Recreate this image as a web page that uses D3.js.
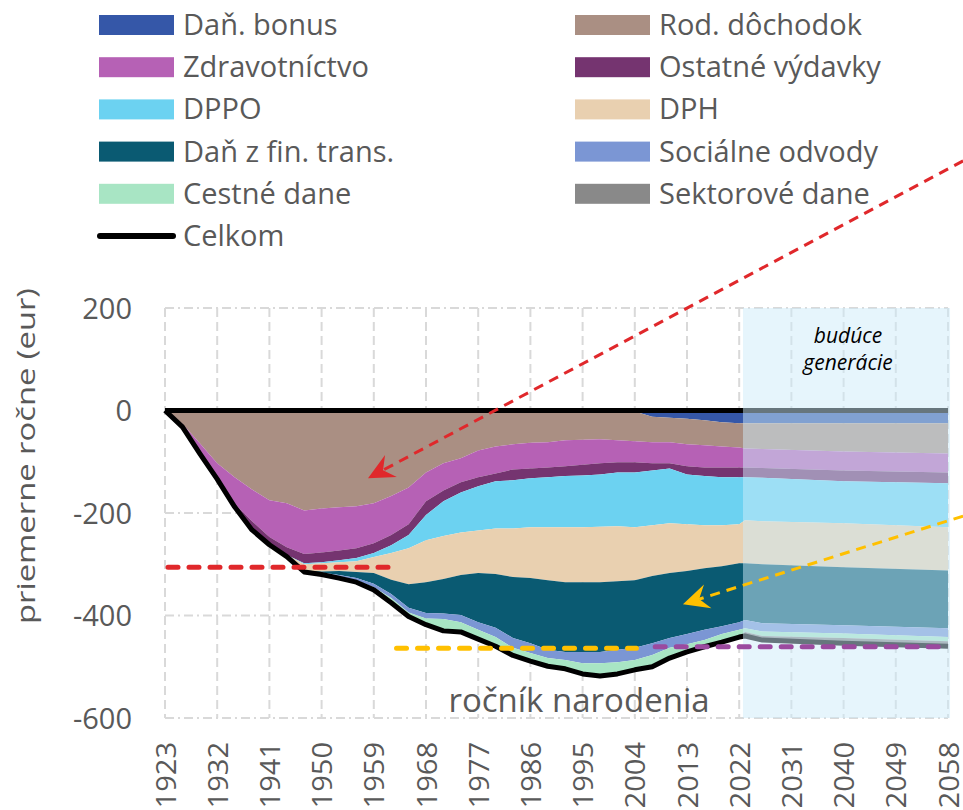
<!DOCTYPE html>
<html>
<meta charset="utf-8">
<style>
body { margin: 0; background: #fff; }
svg { display: block; font-family: "Open Sans", sans-serif; }
.grid-v { stroke: #d9d9d9; stroke-width: 2; stroke-dasharray: 9,5; }
.grid-h { stroke: #d9d9d9; stroke-width: 2; stroke-dasharray: 9,4,2,4; }
.lbl { fill: #595959; }
</style>
<body>
<script src="https://d3js.org/d3.v7.min.js"></script>
<script>
// rocnik narodenia (1923-2022 kazde 3 roky, potom buduce generacie)
var years = [1923,1926,1929,1932,1935,1938,1941,1944,1947,1950,
             1953,1956,1959,1962,1965,1968,1971,1974,1977,1980,
             1983,1986,1989,1992,1995,1998,2001,2004,2007,2010,
             2013,2016,2019,2022,2023,2026,2040,2058];

var danBonus = [0,0,0,0,0,0,0,0,0,0, 0,0,0,0,0,0,0,0,0,0,
                0,0,0,0,0,0,0,-2,-12,-14, -16,-19,-23,-25,-25,-25,-25,-25];
var rodDochodok = [0,-26,-64,-103,-130,-154,-175,-181,-195,-191,
                   -189,-187,-181,-167,-150,-121,-103,-93,-78,-70,
                   -66,-63,-62,-58,-57,-56,-58,-58,-50,-48,
                   -50,-49,-47,-47,-49,-50,-55,-59];
var zdravotnictvo = [0,-6,-20,-31,-52,-62,-72,-86,-85,-86,
                     -84,-82,-78,-76,-72,-56,-53,-47,-52,-53,
                     -49,-50,-49,-51,-49,-47,-43,-41,-41,-41,
                     -43,-43,-41,-39,-37,-37,-37,-37];
var ostatneVydavky = [0,0,0,0,-6,-14,-13,-15,-18,-19,
                      -19,-19,-19,-20,-21,-27,-21,-20,-18,-15,
                      -21,-19,-19,-19,-21,-22,-20,-20,-14,-10,
                      -16,-17,-19,-19,-19,-19,-21,-21];
var dppo = [0,0,0,0,0,0,0,0,-2,-2,
            -4,-6,-8,-15,-26,-49,-68,-78,-86,-92,
            -94,-96,-98,-100,-101,-102,-105,-107,-107,-107,
            -97,-96,-94,-92,-84,-85,-82,-86];
var dph = [0,0,0,0,0,-3,-2,-3,-12,-16,
           -17,-21,-31,-52,-70,-82,-84,-83,-83,-89,
           -95,-99,-103,-107,-107,-108,-107,-103,-99,-97,
           -91,-84,-80,-76,-84,-84,-86,-84];
var danFinTrans = [0,0,0,0,0,0,0,0,-1,-2,
                   -8,-12,-21,-28,-46,-60,-67,-78,-96,-105,
                   -119,-127,-136,-136,-136,-136,-134,-132,-131,-127,
                   -123,-120,-117,-115,-111,-115,-113,-113];
var socOdvody = [0,0,0,0,0,0,0,0,-1,-2,
                 -3,-4,-7,-8,-9,-11,-11,-14,-15,-18,
                 -19,-19,-16,-16,-22,-22,-24,-24,-23,-19,
                 -20,-20,-15,-15,-16,-16,-16,-17];
var cestneDane = [0,0,0,0,0,0,0,0,-1,-2,
                  -3,-4,-5,-9,-8,-12,-23,-19,-18,-18,
                  -15,-16,-16,-17,-21,-25,-23,-19,-23,-20,
                  -15,-13,-16,-14,-7,-9,-9,-8];
var sektoroveDane = [0,0,0,0,0,0,0,0,0,0, 0,0,0,0,0,0,0,0,0,0,
                     0,0,0,0,0,0,0,0,0,0, 0,0,0,0,-8,-8,-10,-10];
var celkom = [0,-32,-84,-134,-188,-233,-262,-285,-315,-320,
              -327,-335,-350,-375,-402,-418,-430,-432,-446,-460,
              -478,-489,-499,-504,-514,-518,-514,-506,-500,-483,
              -471,-461,-452,-442,-440,-448,-454,-460];

var seriesNames = ["Daň. bonus","Rod. dôchodok","Zdravotníctvo","Ostatné výdavky","DPPO",
                   "DPH","Daň z fin. trans.","Sociálne odvody","Cestné dane","Sektorové dane"];
var seriesValues = [danBonus, rodDochodok, zdravotnictvo, ostatneVydavky, dppo,
                    dph, danFinTrans, socOdvody, cestneDane, sektoroveDane];
var seriesColors = ["#3557a8","#aa8f83","#b661b5","#753470","#6cd2f1",
                    "#e9d0b0","#0a5a72","#7b96d4","#a8e5c4","#898989"];

var xTicks = [1923,1932,1941,1950,1959,1968,1977,1986,1995,2004,2013,2022,2031,2040,2049,2058];
var yTicks = [200,0,-200,-400,-600];

// priemery skupin (prerusovane ciary)
var refFrom = [1923, 1962.4, 2007];
var refTo = [1962.2, 2004.8, 2057];
var refValue = [-306, -464, -461];
var refColors = ["#e0282b","#ffc000","#9b4a9f"];

// sipky: zaciatok a hrot (rok, hodnota)
var arrowFrom = [[2060.6, 487], [2060.6, -206]];
var arrowTo = [[1958.0, -132], [2012.3, -378]];
var arrowColors = ["#e0282b","#ffc000"];

var futureBand = [2022.65, 2058.35];

var W = 963, H = 810;
var x = d3.scaleLinear().domain([1923, 2058]).range([165, 948]);
var y = d3.scaleLinear().domain([-600, 200]).range([718, 308]);

var svg = d3.select("body").append("svg")
	.attr("width", W)
	.attr("height", H);

// grid
svg.append("g").selectAll("line")
	.data(xTicks).enter().append("line")
	.attr("class", "grid-v")
	.attr("x1", function(d) { return x(d); })
	.attr("x2", function(d) { return x(d); })
	.attr("y1", y(200))
	.attr("y2", y(-600));

svg.append("g").selectAll("line")
	.data(yTicks).enter().append("line")
	.attr("class", "grid-h")
	.attr("x1", x(1923))
	.attr("x2", x(2058))
	.attr("y1", function(d) { return y(d); })
	.attr("y2", function(d) { return y(d); });

// stacked areas
var rows = years.map(function(yr, i) {
	var r = {year: yr};
	seriesValues.forEach(function(vals, k) { r["s" + k] = vals[i]; });
	return r;
});
var keys = seriesNames.map(function(d, k) { return "s" + k; });
var stacked = d3.stack().keys(keys)(rows);

var area = d3.area()
	.x(function(d) { return x(d.data.year); })
	.y0(function(d) { return y(d[0]); })
	.y1(function(d) { return y(d[1]); });

svg.append("g").selectAll("path")
	.data(stacked).enter().append("path")
	.attr("fill", function(d, k) { return seriesColors[k]; })
	.attr("d", area);

// Celkom
var totalLine = d3.line()
	.x(function(d, i) { return x(years[i]); })
	.y(function(d) { return y(d); });

svg.append("path")
	.attr("d", totalLine(celkom))
	.attr("fill", "none")
	.attr("stroke", "#000")
	.attr("stroke-width", 5)
	.attr("stroke-linejoin", "round");

// zero line
svg.append("line")
	.attr("x1", x(1923)).attr("x2", x(2058))
	.attr("y1", y(0)).attr("y2", y(0))
	.attr("stroke", "#000")
	.attr("stroke-width", 5);

// buduce generacie overlay
svg.append("rect")
	.attr("x", x(futureBand[0]))
	.attr("width", x(futureBand[1]) - x(futureBand[0]))
	.attr("y", y(200))
	.attr("height", y(-600) - y(200))
	.attr("fill", "rgb(205,235,249)")
	.attr("fill-opacity", 0.5);

// reference dashed lines
refValue.forEach(function(v, i) {
	svg.append("line")
		.attr("x1", x(refFrom[i]) + 3).attr("x2", x(refTo[i]) - 3)
		.attr("y1", y(v)).attr("y2", y(v))
		.attr("stroke", refColors[i])
		.attr("stroke-width", 5)
		.attr("stroke-linecap", "round")
		.attr("stroke-dasharray", "10,11");
});

// arrows
arrowFrom.forEach(function(a, i) {
	var x0 = x(a[0]), y0 = y(a[1]);
	var x1 = x(arrowTo[i][0]), y1 = y(arrowTo[i][1]);
	var dx = x0 - x1, dy = y0 - y1, len = Math.sqrt(dx * dx + dy * dy);
	var ux = dx / len, uy = dy / len, px = -uy, py = ux;
	var hl = 26, hw = 12.5, notch = 17;
	svg.append("line")
		.attr("x1", x0).attr("y1", y0)
		.attr("x2", x1 + ux * notch).attr("y2", y1 + uy * notch)
		.attr("stroke", arrowColors[i])
		.attr("stroke-width", 3)
		.attr("stroke-dasharray", "10,7");
	var pts = [
		[x1, y1],
		[x1 + ux * hl + px * hw, y1 + uy * hl + py * hw],
		[x1 + ux * notch, y1 + uy * notch],
		[x1 + ux * hl - px * hw, y1 + uy * hl - py * hw]
	];
	svg.append("path")
		.attr("d", "M" + pts.map(function(p) { return p[0] + "," + p[1]; }).join("L") + "Z")
		.attr("fill", arrowColors[i]);
});

// y axis
var yAxis = svg.append("g")
	.attr("transform", "translate(" + x(1923) + ",0)")
	.call(d3.axisLeft(y).tickValues(yTicks).tickSize(0).tickPadding(33)
		.tickFormat(function(d) { return String(d); }));
yAxis.select(".domain").remove();
yAxis.selectAll("text")
	.attr("class", "lbl")
	.attr("font-family", "Open Sans")
	.attr("font-size", "29px")
	.attr("dy", "0.36em");

// x axis
var xAxis = svg.append("g")
	.attr("transform", "translate(0," + y(-600) + ")")
	.call(d3.axisBottom(x).tickValues(xTicks).tickSize(0)
		.tickFormat(function(d) { return String(d); }));
xAxis.select(".domain").remove();
xAxis.selectAll("text")
	.attr("class", "lbl")
	.attr("font-family", "Open Sans")
	.attr("font-size", "28px")
	.attr("text-anchor", "end")
	.attr("x", -23)
	.attr("y", 0)
	.attr("dy", "0.36em")
	.attr("transform", "rotate(-90) scale(1.04,1)");

// axis titles
svg.append("text")
	.attr("class", "lbl")
	.attr("font-size", "26px")
	.attr("text-anchor", "middle")
	.attr("transform", "translate(35,456) rotate(-90) scale(1.26,1)")
	.text("priemerne ročne (eur)");

svg.append("text")
	.attr("class", "lbl")
	.attr("font-size", "33px")
	.attr("text-anchor", "middle")
	.attr("x", 579)
	.attr("y", 712)
	.text("ročník narodenia");

svg.append("text")
	.attr("font-size", "21px")
	.attr("font-style", "italic")
	.attr("fill", "#000")
	.attr("text-anchor", "middle")
	.attr("x", 848)
	.attr("y", 343)
	.text("budúce");
svg.append("text")
	.attr("font-size", "21px")
	.attr("font-style", "italic")
	.attr("fill", "#000")
	.attr("text-anchor", "middle")
	.attr("x", 848)
	.attr("y", 370)
	.text("generácie");

// legend
var legendNames = seriesNames.concat(["Celkom"]);
var legend = svg.append("g");
legendNames.forEach(function(name, i) {
	var col = i % 2, row = Math.floor(i / 2);
	var cy = 25 + row * 42.2;
	var bx = col ? 575 : 99, tx = col ? 659 : 183;
	if (i < seriesNames.length) {
		legend.append("rect")
			.attr("x", bx).attr("y", cy - 10)
			.attr("width", 75).attr("height", 20)
			.attr("fill", seriesColors[i]);
	} else {
		legend.append("line")
			.attr("x1", bx + 1).attr("x2", bx + 74)
			.attr("y1", cy).attr("y2", cy)
			.attr("stroke", "#000")
			.attr("stroke-width", 6)
			.attr("stroke-linecap", "round");
	}
	legend.append("text")
		.attr("class", "lbl")
		.attr("font-size", "29px")
		.attr("x", tx)
		.attr("y", cy + 10)
		.text(name);
});
</script>
</body>
</html>
